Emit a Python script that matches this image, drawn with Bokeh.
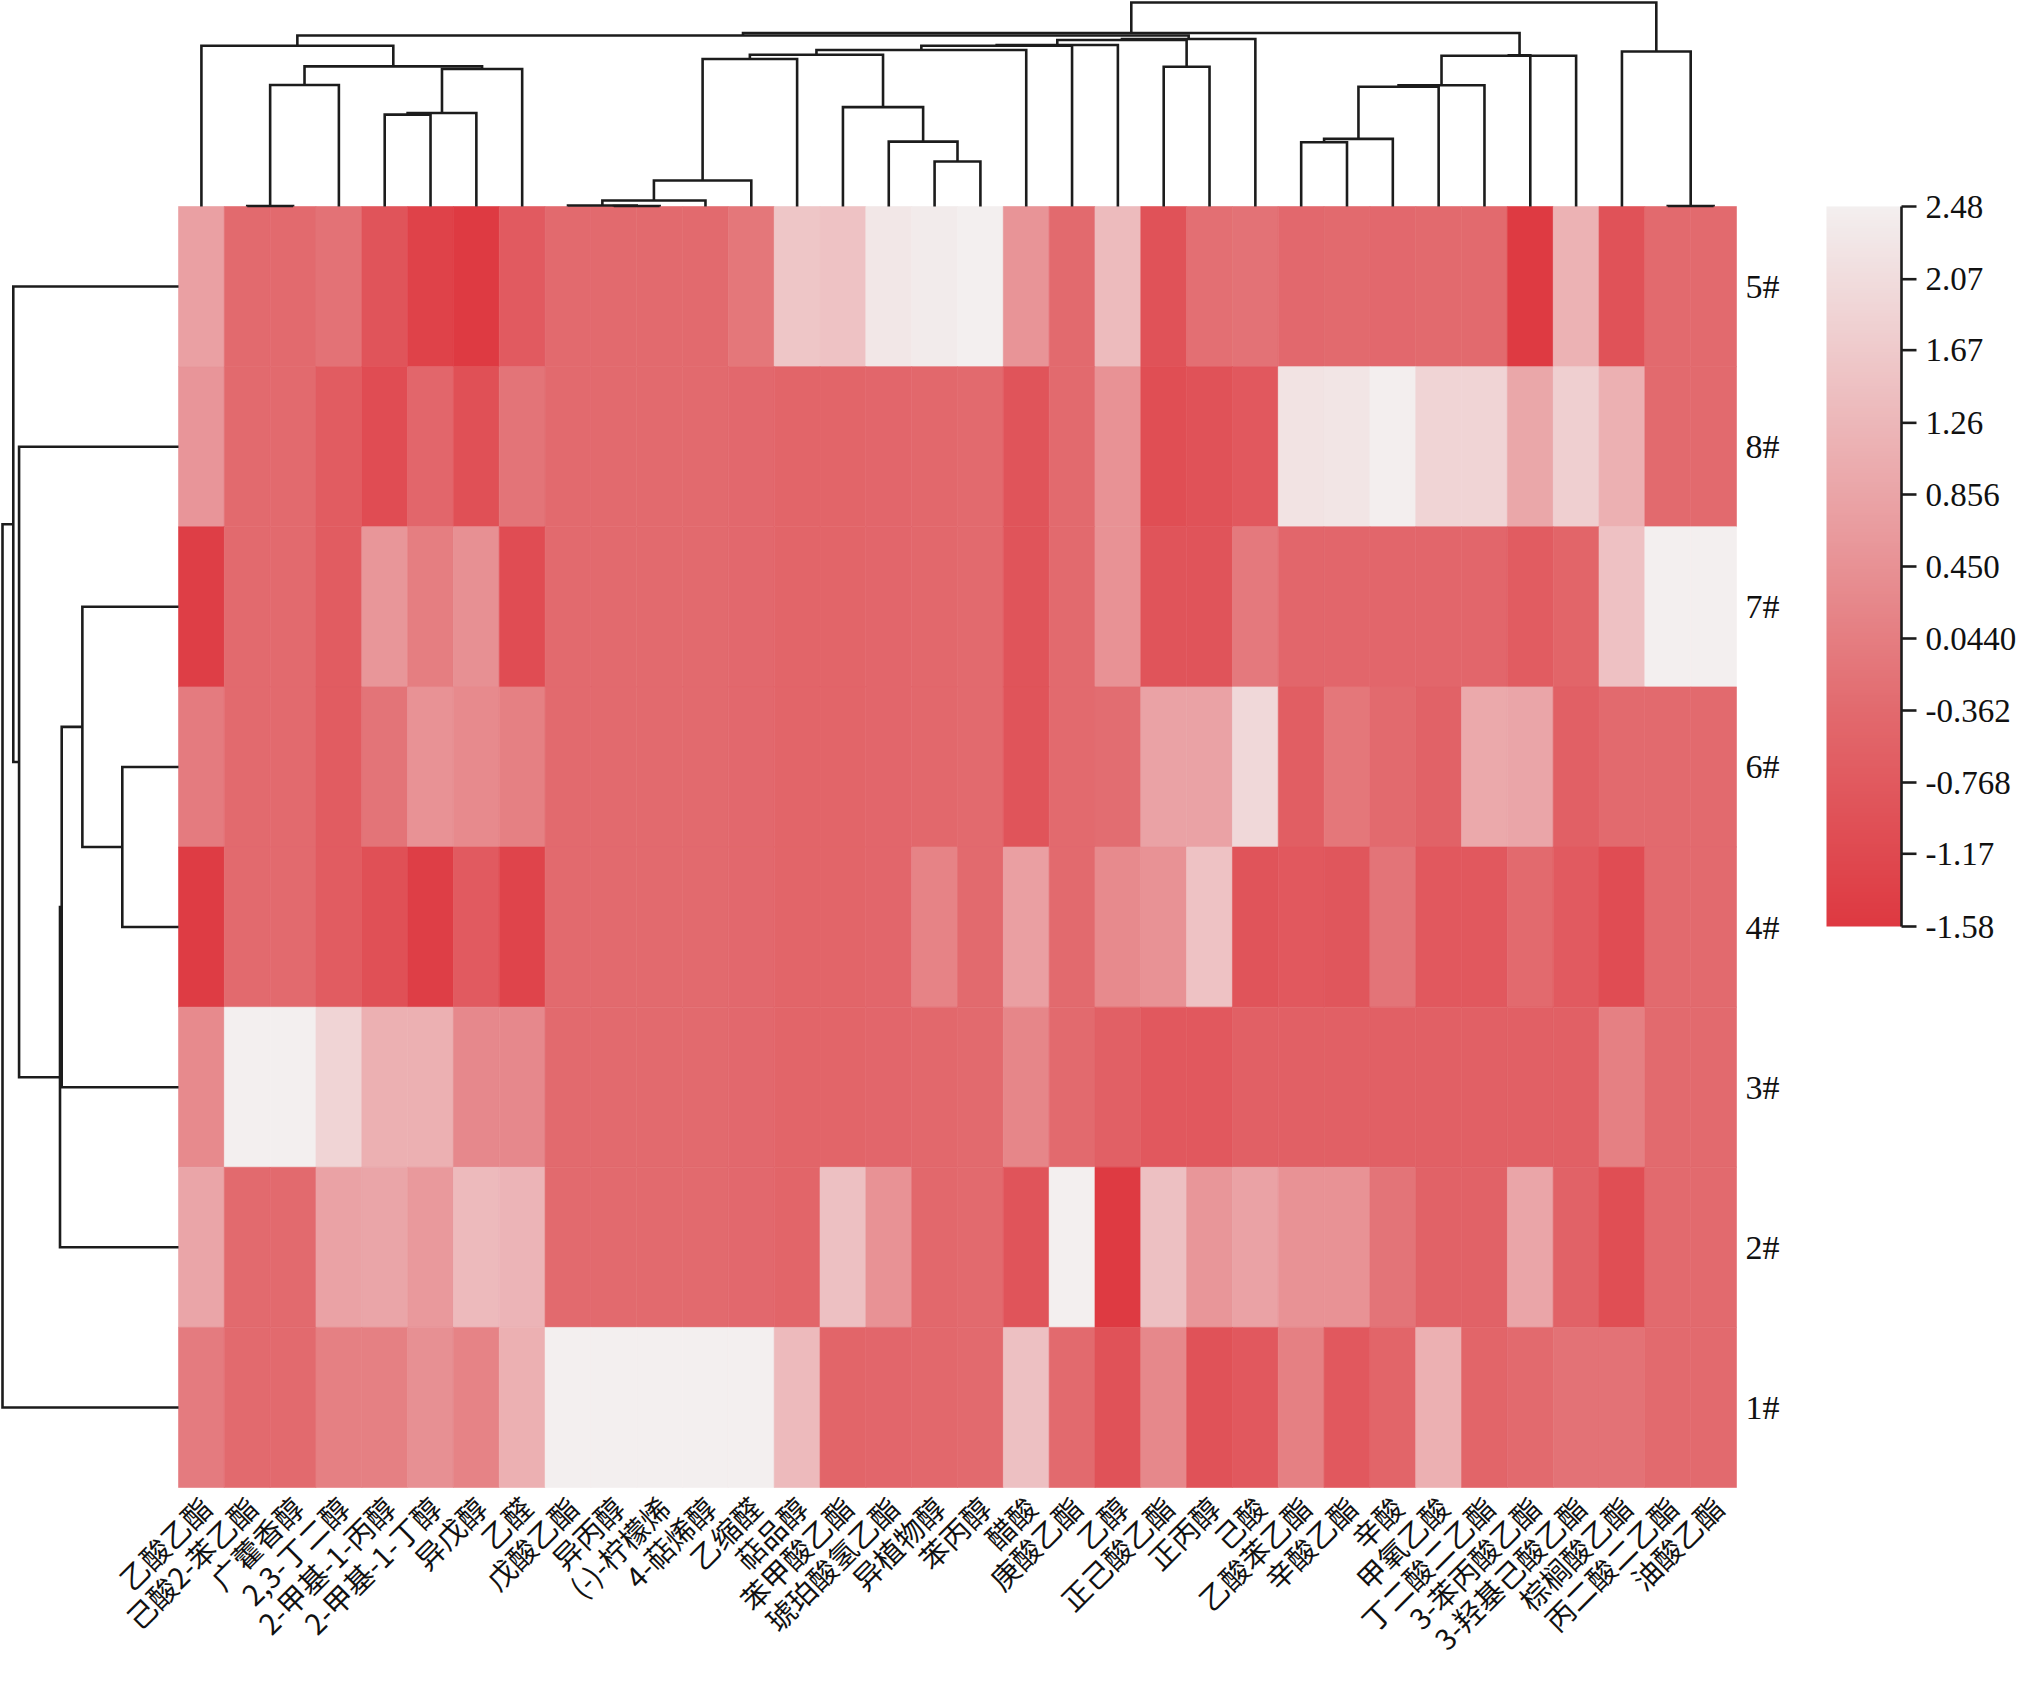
import math
import numpy as np
from bokeh.plotting import figure
from bokeh.models import Range1d, ColumnDataSource, LinearColorMapper
from bokeh.transform import transform
from bokeh.core.properties import value
from bokeh.embed import file_html
from bokeh.resources import INLINE

# ---------------- data ----------------
compounds = ["乙酸乙酯", "己酸2-苯乙酯", "广藿香醇", "2,3-丁二醇", "2-甲基-1-丙醇", "2-甲基-1-丁醇",
             "异戊醇", "乙醛", "戊酸乙酯", "异丙醇", "(-)-柠檬烯", "4-萜烯醇", "乙缩醛", "萜品醇",
             "苯甲酸乙酯", "琥珀酸氢乙酯", "异植物醇", "苯丙醇", "醋酸", "庚酸乙酯", "乙醇", "正己酸乙酯",
             "正丙醇", "己酸", "乙酸苯乙酯", "辛酸乙酯", "辛酸", "甲氧乙酸", "丁二酸二乙酯", "3-苯丙酸乙酯",
             "3-羟基己酸乙酯", "棕榈酸乙酯", "丙二酸二乙酯", "油酸乙酯"]

samples = ["5#", "8#", "7#", "6#", "4#", "3#", "2#", "1#"]  # top to bottom

z_5 = [0.76, -0.354, -0.354, -0.2, -0.9, -1.35, -1.55, -0.75, -0.354, -0.354, -0.354, -0.354, -0.1, 1.59,
       1.5, 2.29, 2.38, 2.48, 0.5, -0.354, 1.35, -0.95, -0.25, -0.2, -0.4, -0.35, -0.4, -0.35, -0.35, -1.55,
       1.15, -0.95, -0.354, -0.354]
z_8 = [0.53, -0.354, -0.354, -0.7, -1.1, -0.45, -1.0, -0.15, -0.354, -0.354, -0.354, -0.354, -0.4, -0.5,
       -0.5, -0.45, -0.42, -0.354, -0.9, -0.354, 0.45, -1.05, -0.95, -0.8, 2.2, 2.25, 2.46, 1.89, 1.89, 0.9,
       1.78, 1.11, -0.354, -0.354]
z_7 = [-1.45, -0.354, -0.354, -0.7, 0.55, 0.05, 0.42, -1.1, -0.354, -0.354, -0.354, -0.354, -0.4, -0.5,
       -0.5, -0.45, -0.42, -0.354, -0.9, -0.354, 0.45, -0.9, -0.9, -0.05, -0.45, -0.45, -0.45, -0.45, -0.45,
       -0.7, -0.5, 1.48, 2.48, 2.48]
z_6 = [0.0, -0.354, -0.354, -0.7, -0.15, 0.45, 0.3, 0.1, -0.354, -0.354, -0.354, -0.354, -0.4, -0.5,
       -0.5, -0.45, -0.42, -0.354, -0.9, -0.354, -0.3, 0.8, 0.8, 1.98, -0.65, -0.1, -0.35, -0.55, 0.95, 0.87,
       -0.6, -0.354, -0.354, -0.354]
z_4 = [-1.5, -0.354, -0.354, -0.7, -1.0, -1.45, -0.75, -1.3, -0.354, -0.354, -0.354, -0.354, -0.4, -0.5,
       -0.5, -0.45, 0.15, -0.354, 0.74, -0.354, 0.3, 0.45, 1.5, -0.9, -0.8, -0.85, -0.15, -0.8, -0.8, -0.35,
       -0.75, -1.1, -0.354, -0.354]
z_3 = [0.3, 2.48, 2.48, 1.89, 1.11, 1.11, 0.26, 0.26, -0.354, -0.354, -0.354, -0.354, -0.4, -0.5,
       -0.5, -0.45, -0.42, -0.354, 0.22, -0.354, -0.6, -0.8, -0.8, -0.6, -0.6, -0.6, -0.6, -0.6, -0.6, -0.6,
       -0.6, 0.1, -0.354, -0.354]
z_2 = [0.87, -0.354, -0.354, 0.8, 0.87, 0.6, 1.33, 1.2, -0.354, -0.354, -0.354, -0.354, -0.4, -0.5,
       1.46, 0.45, -0.42, -0.354, -0.9, 2.48, -1.55, 1.46, 0.55, 0.8, 0.45, 0.45, -0.15, -0.55, -0.55, 0.87,
       -0.55, -1.05, -0.354, -0.354]
z_1 = [0.0, -0.354, -0.354, 0.1, 0.1, 0.42, 0.15, 1.11, 2.48, 2.48, 2.48, 2.48, 2.48, 1.33,
       -0.5, -0.45, -0.42, -0.354, 1.46, -0.354, -0.95, 0.25, -0.95, -0.8, 0.1, -0.8, -0.5, 1.11, -0.5, -0.35,
       -0.2, -0.2, -0.354, -0.354]
z_rows = [z_5, z_8, z_7, z_6, z_4, z_3, z_2, z_1]

# column clustering: (child a, child b, distance); leaves 0..33, new clusters numbered from 34
col_merges = [
    (1, 2, 0.5), (34, 3, 121.7), (4, 5, 92.0), (36, 6, 93.7), (37, 7, 137.7), (35, 38, 140.3),
    (0, 39, 161.0), (9, 10, 0.5), (8, 41, 1.0), (42, 11, 6.0), (43, 12, 26.0), (44, 13, 147.7),
    (16, 17, 45.0), (15, 46, 65.0), (14, 47, 99.5), (45, 48, 152.0), (49, 18, 156.7), (50, 19, 161.0),
    (51, 20, 161.7), (21, 22, 140.0), (52, 53, 166.7), (54, 23, 167.7), (40, 55, 171.3),
    (24, 25, 64.3), (57, 26, 67.7), (58, 27, 120.0), (59, 28, 121.5), (60, 30, 151.0), (61, 29, 151.3),
    (56, 62, 173.7), (32, 33, 0.5), (31, 64, 155.3), (63, 65, 204.3),
]
# row clustering: leaves are sample indices (top to bottom), new clusters from 8
row_merges = [(3, 4, 56.3), (2, 8, 96.3), (9, 5, 117.0), (10, 6, 118.7), (1, 11, 159.7),
              (0, 12, 165.5), (13, 7, 176.3)]

z_low, z_high = -1.58, 2.48
cb_ticks = [2.48, 2.07, 1.67, 1.26, 0.856, 0.450, 0.0440, -0.362, -0.768, -1.17, -1.58]
cb_labels = ["2.48", "2.07", "1.67", "1.26", "0.856", "0.450", "0.0440", "-0.362", "-0.768", "-1.17", "-1.58"]

# ---------------- layout (canvas pixels) ----------------
W, H = 2018, 1672
HM_L, HM_R, HM_T, HM_B = 178, 1736, 206, 1487
CB_L, CB_R, CB_T, CB_B = 1826, 1901, 206, 926
TOP_SPAN_PX = 204
LEFT_SPAN_PX = 176

ncol, nrow = len(compounds), len(samples)
cw = (HM_R - HM_L) / ncol
rh = (HM_B - HM_T) / nrow

# palette: red -> pale
stops = [(0.0, (222, 57, 65)), (0.3, (226, 106, 110)), (0.55, (233, 155, 158)), (1.0, (243, 239, 239))]
def lerp_col(t):
    for (t0, c0), (t1, c1) in zip(stops[:-1], stops[1:]):
        if t <= t1:
            f = (t - t0) / (t1 - t0)
            return "#%02x%02x%02x" % tuple(int(round(a + (b - a) * f)) for a, b in zip(c0, c1))
    return "#%02x%02x%02x" % stops[-1][1]
palette = [lerp_col(i / 255) for i in range(256)]
mapper = LinearColorMapper(palette=palette, low=z_low, high=z_high)

p = figure(width=W, height=H, output_backend="svg", toolbar_location=None,
           x_range=Range1d(-HM_L / cw, (W - HM_L) / cw),
           y_range=Range1d(-(H - HM_B) / rh, nrow + HM_T / rh),
           x_axis_location=None, y_axis_location=None, min_border=0,
           outline_line_color=None, background_fill_color="white", border_fill_color="white")
for g in p.grid:
    g.visible = False

cb_per_px = (z_high - z_low) / (CB_B - CB_T)
p.extra_y_ranges = {"cb": Range1d(z_low - (H - CB_B) * cb_per_px, z_high + CB_T * cb_per_px)}

# ---------------- heatmap ----------------
xs, ys, zs = [], [], []
for i, row in enumerate(z_rows):
    for j, v in enumerate(row):
        xs.append(j + 0.5)
        ys.append(nrow - i - 0.5)
        zs.append(v)
src = ColumnDataSource(dict(x=xs, y=ys, z=zs))
p.rect(x="x", y="y", width=1, height=1, source=src,
       fill_color=transform("z", mapper), line_color=transform("z", mapper), line_width=0.6)

# ---------------- dendrograms ----------------
LINE_C = "#1c1c1c"
LW = 2.6

# top (columns)
pos = {j: j + 0.5 for j in range(ncol)}
hgt = {j: 0.0 for j in range(ncol)}
hmax = max(m[2] for m in col_merges)
tscale = (TOP_SPAN_PX / rh) / hmax
mx, my = [], []
for k, (a, b, h) in enumerate(col_merges):
    nid = ncol + k
    ya, yb, yh = nrow + hgt[a] * tscale, nrow + hgt[b] * tscale, nrow + h * tscale
    mx.append([pos[a], pos[a], pos[b], pos[b]])
    my.append([ya, yh, yh, yb])
    pos[nid] = (pos[a] + pos[b]) / 2
    hgt[nid] = h
p.multi_line(mx, my, line_color=LINE_C, line_width=LW, line_join="miter")

# left (rows)
rpos = {i: nrow - i - 0.5 for i in range(nrow)}
rhgt = {i: 0.0 for i in range(nrow)}
dmax = max(m[2] for m in row_merges)
lscale = (LEFT_SPAN_PX / cw) / dmax
lx, ly = [], []
for k, (a, b, d) in enumerate(row_merges):
    nid = nrow + k
    xa, xb, xd = -rhgt[a] * lscale, -rhgt[b] * lscale, -d * lscale
    lx.append([xa, xd, xd, xb])
    ly.append([rpos[a], rpos[a], rpos[b], rpos[b]])
    rpos[nid] = (rpos[a] + rpos[b]) / 2
    rhgt[nid] = d
p.multi_line(lx, ly, line_color=LINE_C, line_width=LW, line_join="miter")

# ---------------- labels ----------------
p.text(x=[j + 0.5 + 4 / cw for j in range(ncol)], y=[-14 / rh] * ncol, text=compounds,
       angle=math.pi / 4, text_align="right", text_baseline="middle",
       text_font=value("Noto Sans CJK SC"), text_font_size="29px", text_color="#111111")

p.text(x=[ncol + 9 / cw] * nrow, y=[nrow - i - 0.5 for i in range(nrow)], text=samples,
       text_align="left", text_baseline="middle",
       text_font=value("Liberation Serif"), text_font_size="34px", text_color="#111111")

# ---------------- colour bar ----------------
grad = np.linspace(z_low, z_high, 256).reshape(256, 1)
p.image(image=[grad], x=(CB_L - HM_L) / cw, y=z_low, dw=(CB_R - CB_L) / cw, dh=z_high - z_low,
        color_mapper=mapper, y_range_name="cb")
xr = (CB_R - HM_L) / cw
p.segment(x0=[xr], y0=[z_low], x1=[xr], y1=[z_high], line_color=LINE_C, line_width=LW, y_range_name="cb")
p.segment(x0=[xr] * len(cb_ticks), y0=cb_ticks, x1=[xr + 15 / cw] * len(cb_ticks), y1=cb_ticks,
          line_color=LINE_C, line_width=LW, y_range_name="cb")
p.text(x=[xr + 24 / cw] * len(cb_ticks), y=cb_ticks, text=cb_labels, text_align="left",
       text_baseline="middle", text_font=value("Liberation Serif"), text_font_size="33px",
       text_color="#111111", y_range_name="cb")

open("out.html", "w").write(file_html(p, INLINE))
